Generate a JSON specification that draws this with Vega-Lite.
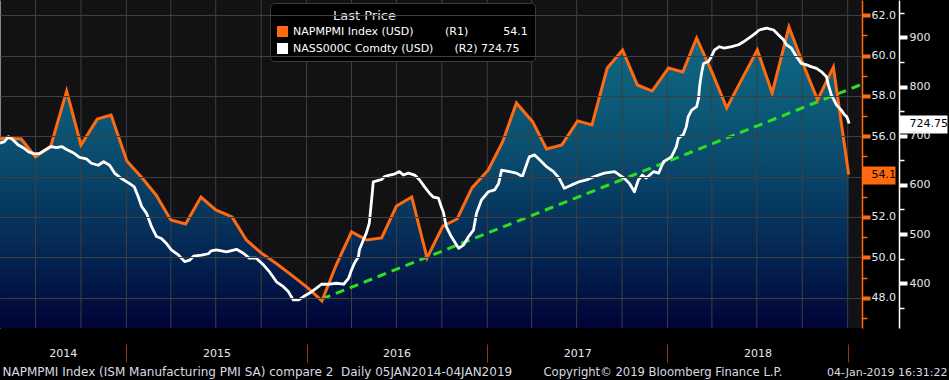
{
  "$schema": "https://vega.github.io/schema/vega-lite/v6.json",
  "width": 862,
  "height": 328,
  "autosize": {"type": "none"},
  "padding": {"left": 0, "top": 0, "right": 87, "bottom": 52},
  "background": "#000000",
  "datasets": {
    "quarters": [
      {"date": "2014-07-01"}, {"date": "2014-10-01"},
      {"date": "2015-01-01"}, {"date": "2015-04-01"}, {"date": "2015-07-01"}, {"date": "2015-10-01"},
      {"date": "2016-01-01"}, {"date": "2016-04-01"}, {"date": "2016-07-01"}, {"date": "2016-10-01"},
      {"date": "2017-01-01"}, {"date": "2017-04-01"}, {"date": "2017-07-01"}, {"date": "2017-10-01"},
      {"date": "2018-01-01"}, {"date": "2018-04-01"}, {"date": "2018-07-01"}, {"date": "2018-10-01"},
      {"date": "2019-01-01"}
    ],
    "pmi": [
      {"date": "2014-04-01", "pmi": 55.8},
      {"date": "2014-05-01", "pmi": 55.91},
      {"date": "2014-06-02", "pmi": 55.86},
      {"date": "2014-07-01", "pmi": 54.97},
      {"date": "2014-08-01", "pmi": 55.52},
      {"date": "2014-09-02", "pmi": 58.24},
      {"date": "2014-10-01", "pmi": 55.57},
      {"date": "2014-11-03", "pmi": 56.85},
      {"date": "2014-12-01", "pmi": 57.05},
      {"date": "2015-01-02", "pmi": 54.77},
      {"date": "2015-02-02", "pmi": 53.93},
      {"date": "2015-03-02", "pmi": 53.09},
      {"date": "2015-04-01", "pmi": 51.85},
      {"date": "2015-05-01", "pmi": 51.65},
      {"date": "2015-06-01", "pmi": 52.99},
      {"date": "2015-07-01", "pmi": 52.35},
      {"date": "2015-08-03", "pmi": 52.0},
      {"date": "2015-09-01", "pmi": 50.86},
      {"date": "2015-10-01", "pmi": 50.22},
      {"date": "2015-11-02", "pmi": 49.67},
      {"date": "2015-12-01", "pmi": 49.13},
      {"date": "2016-01-04", "pmi": 48.48},
      {"date": "2016-02-01", "pmi": 47.84},
      {"date": "2016-03-01", "pmi": 49.62},
      {"date": "2016-04-01", "pmi": 51.26},
      {"date": "2016-05-02", "pmi": 50.86},
      {"date": "2016-06-01", "pmi": 50.96},
      {"date": "2016-07-01", "pmi": 52.54},
      {"date": "2016-08-01", "pmi": 52.99},
      {"date": "2016-09-01", "pmi": 49.97},
      {"date": "2016-10-03", "pmi": 51.55},
      {"date": "2016-11-01", "pmi": 51.9},
      {"date": "2016-12-01", "pmi": 53.44},
      {"date": "2017-01-03", "pmi": 54.33},
      {"date": "2017-02-01", "pmi": 55.72},
      {"date": "2017-03-01", "pmi": 57.65},
      {"date": "2017-04-03", "pmi": 56.71},
      {"date": "2017-05-01", "pmi": 55.37},
      {"date": "2017-06-01", "pmi": 55.57},
      {"date": "2017-07-03", "pmi": 56.76},
      {"date": "2017-08-01", "pmi": 56.56},
      {"date": "2017-09-01", "pmi": 59.38},
      {"date": "2017-10-02", "pmi": 60.27},
      {"date": "2017-11-01", "pmi": 58.54},
      {"date": "2017-12-01", "pmi": 58.24},
      {"date": "2018-01-03", "pmi": 59.38},
      {"date": "2018-02-01", "pmi": 59.18},
      {"date": "2018-03-01", "pmi": 60.87},
      {"date": "2018-04-02", "pmi": 59.13},
      {"date": "2018-05-01", "pmi": 57.4},
      {"date": "2018-06-01", "pmi": 58.84},
      {"date": "2018-07-02", "pmi": 60.27},
      {"date": "2018-08-01", "pmi": 58.14},
      {"date": "2018-09-04", "pmi": 61.41},
      {"date": "2018-10-01", "pmi": 59.68},
      {"date": "2018-11-01", "pmi": 57.8},
      {"date": "2018-12-03", "pmi": 59.43},
      {"date": "2019-01-03", "pmi": 54.1}
    ],
    "trend": [
      {"date": "2016-02-01", "pmi": 47.94},
      {"date": "2019-01-30", "pmi": 58.58}
    ],
    "nass": [
      {"date": "2014-04-20", "price": 685},
      {"date": "2014-04-29", "price": 688},
      {"date": "2014-05-07", "price": 698},
      {"date": "2014-05-17", "price": 691},
      {"date": "2014-05-27", "price": 681},
      {"date": "2014-06-07", "price": 675},
      {"date": "2014-06-17", "price": 667},
      {"date": "2014-06-29", "price": 663},
      {"date": "2014-07-09", "price": 664},
      {"date": "2014-07-19", "price": 670},
      {"date": "2014-08-02", "price": 678},
      {"date": "2014-08-12", "price": 676},
      {"date": "2014-08-23", "price": 678},
      {"date": "2014-09-02", "price": 672},
      {"date": "2014-09-16", "price": 665},
      {"date": "2014-09-28", "price": 656},
      {"date": "2014-10-12", "price": 653},
      {"date": "2014-10-22", "price": 644},
      {"date": "2014-11-05", "price": 640},
      {"date": "2014-11-16", "price": 647},
      {"date": "2014-11-28", "price": 640},
      {"date": "2014-12-08", "price": 624},
      {"date": "2014-12-22", "price": 613},
      {"date": "2015-01-07", "price": 603},
      {"date": "2015-01-17", "price": 596},
      {"date": "2015-01-25", "price": 576},
      {"date": "2015-02-01", "price": 556},
      {"date": "2015-02-11", "price": 542},
      {"date": "2015-02-21", "price": 515},
      {"date": "2015-03-03", "price": 495},
      {"date": "2015-03-13", "price": 491},
      {"date": "2015-03-23", "price": 481},
      {"date": "2015-04-02", "price": 468},
      {"date": "2015-04-17", "price": 457},
      {"date": "2015-04-29", "price": 444},
      {"date": "2015-05-09", "price": 447},
      {"date": "2015-05-17", "price": 455},
      {"date": "2015-06-02", "price": 457},
      {"date": "2015-06-16", "price": 460},
      {"date": "2015-06-22", "price": 466},
      {"date": "2015-07-02", "price": 468},
      {"date": "2015-07-23", "price": 464},
      {"date": "2015-08-12", "price": 469},
      {"date": "2015-08-26", "price": 461},
      {"date": "2015-09-07", "price": 451},
      {"date": "2015-09-21", "price": 451},
      {"date": "2015-10-06", "price": 437},
      {"date": "2015-10-18", "price": 423},
      {"date": "2015-11-01", "price": 403},
      {"date": "2015-11-15", "price": 393},
      {"date": "2015-11-25", "price": 383},
      {"date": "2015-12-05", "price": 366},
      {"date": "2015-12-16", "price": 366},
      {"date": "2015-12-26", "price": 373},
      {"date": "2016-01-07", "price": 380},
      {"date": "2016-01-21", "price": 390},
      {"date": "2016-01-31", "price": 398},
      {"date": "2016-02-16", "price": 398},
      {"date": "2016-03-02", "price": 400},
      {"date": "2016-03-16", "price": 398},
      {"date": "2016-03-26", "price": 410},
      {"date": "2016-04-01", "price": 427},
      {"date": "2016-04-07", "price": 441},
      {"date": "2016-04-15", "price": 454},
      {"date": "2016-04-17", "price": 468},
      {"date": "2016-04-25", "price": 488},
      {"date": "2016-05-01", "price": 502},
      {"date": "2016-05-07", "price": 522},
      {"date": "2016-05-09", "price": 542},
      {"date": "2016-05-13", "price": 583},
      {"date": "2016-05-15", "price": 606},
      {"date": "2016-05-22", "price": 608},
      {"date": "2016-06-01", "price": 611},
      {"date": "2016-06-07", "price": 617},
      {"date": "2016-06-17", "price": 620},
      {"date": "2016-06-27", "price": 622},
      {"date": "2016-07-07", "price": 627},
      {"date": "2016-07-15", "price": 620},
      {"date": "2016-07-25", "price": 624},
      {"date": "2016-08-07", "price": 620},
      {"date": "2016-08-17", "price": 610},
      {"date": "2016-08-27", "price": 596},
      {"date": "2016-09-06", "price": 583},
      {"date": "2016-09-14", "price": 575},
      {"date": "2016-09-24", "price": 573},
      {"date": "2016-09-30", "price": 555},
      {"date": "2016-10-04", "price": 545},
      {"date": "2016-10-10", "price": 515},
      {"date": "2016-10-20", "price": 495},
      {"date": "2016-11-04", "price": 471},
      {"date": "2016-11-14", "price": 478},
      {"date": "2016-11-24", "price": 495},
      {"date": "2016-12-04", "price": 508},
      {"date": "2016-12-10", "price": 542},
      {"date": "2016-12-20", "price": 569},
      {"date": "2017-01-03", "price": 586},
      {"date": "2017-01-16", "price": 590},
      {"date": "2017-01-24", "price": 603},
      {"date": "2017-01-30", "price": 630},
      {"date": "2017-02-15", "price": 627},
      {"date": "2017-03-01", "price": 624},
      {"date": "2017-03-13", "price": 617},
      {"date": "2017-03-21", "price": 640},
      {"date": "2017-03-27", "price": 657},
      {"date": "2017-04-07", "price": 661},
      {"date": "2017-04-17", "price": 651},
      {"date": "2017-05-01", "price": 637},
      {"date": "2017-05-15", "price": 627},
      {"date": "2017-05-27", "price": 613},
      {"date": "2017-06-06", "price": 593},
      {"date": "2017-06-21", "price": 600},
      {"date": "2017-07-05", "price": 606},
      {"date": "2017-07-21", "price": 610},
      {"date": "2017-08-06", "price": 617},
      {"date": "2017-08-26", "price": 624},
      {"date": "2017-09-16", "price": 627},
      {"date": "2017-09-26", "price": 620},
      {"date": "2017-10-06", "price": 613},
      {"date": "2017-10-16", "price": 603},
      {"date": "2017-10-26", "price": 586},
      {"date": "2017-11-03", "price": 610},
      {"date": "2017-11-11", "price": 620},
      {"date": "2017-11-19", "price": 614},
      {"date": "2017-12-04", "price": 627},
      {"date": "2017-12-14", "price": 624},
      {"date": "2017-12-24", "price": 647},
      {"date": "2018-01-09", "price": 657},
      {"date": "2018-01-19", "price": 678},
      {"date": "2018-01-23", "price": 695},
      {"date": "2018-02-02", "price": 702},
      {"date": "2018-02-08", "price": 718},
      {"date": "2018-02-12", "price": 739},
      {"date": "2018-02-19", "price": 752},
      {"date": "2018-03-01", "price": 759},
      {"date": "2018-03-05", "price": 776},
      {"date": "2018-03-07", "price": 800},
      {"date": "2018-03-11", "price": 827},
      {"date": "2018-03-15", "price": 847},
      {"date": "2018-03-25", "price": 851},
      {"date": "2018-03-31", "price": 861},
      {"date": "2018-04-06", "price": 874},
      {"date": "2018-04-16", "price": 881},
      {"date": "2018-04-26", "price": 878},
      {"date": "2018-05-11", "price": 881},
      {"date": "2018-05-25", "price": 885},
      {"date": "2018-06-04", "price": 891},
      {"date": "2018-06-14", "price": 898},
      {"date": "2018-06-24", "price": 905},
      {"date": "2018-07-06", "price": 915},
      {"date": "2018-07-21", "price": 919},
      {"date": "2018-08-04", "price": 915},
      {"date": "2018-08-14", "price": 905},
      {"date": "2018-08-24", "price": 895},
      {"date": "2018-08-30", "price": 885},
      {"date": "2018-09-09", "price": 878},
      {"date": "2018-09-19", "price": 861},
      {"date": "2018-09-29", "price": 847},
      {"date": "2018-10-10", "price": 844},
      {"date": "2018-10-20", "price": 840},
      {"date": "2018-10-30", "price": 837},
      {"date": "2018-11-09", "price": 830},
      {"date": "2018-11-19", "price": 820},
      {"date": "2018-11-23", "price": 803},
      {"date": "2018-11-29", "price": 783},
      {"date": "2018-12-09", "price": 763},
      {"date": "2018-12-19", "price": 752},
      {"date": "2018-12-26", "price": 742},
      {"date": "2018-12-30", "price": 739},
      {"date": "2019-01-04", "price": 724.75}
    ]
  },
  "layer": [
    {
      "resolve": {"axis": {"x": "independent", "y": "independent"}},
      "layer": [
        {
          "data": {"name": "pmi"},
          "mark": {
            "type": "area",
            "clip": true,
            "color": {
              "gradient": "linear",
              "x1": 0, "y1": 0, "x2": 0, "y2": 1,
              "stops": [
                {"offset": 0, "color": "#0f6c86"},
                {"offset": 0.4, "color": "#0a4f70"},
                {"offset": 0.72, "color": "#052a56"},
                {"offset": 1, "color": "#000436"}
              ]
            }
          },
          "encoding": {
            "x": {
              "field": "date",
              "type": "temporal",
              "scale": {
                "type": "utc",
                "domain": [
                  {"year": 2014, "month": 4, "date": 20, "utc": true},
                  {"year": 2019, "month": 1, "date": 30, "utc": true}
                ]
              },
              "axis": {
                "orient": "bottom",
                "values": [{"year": 2014, "month": 7, "date": 1, "utc": true}],
                "tickCount": 100,
                "domain": false,
                "grid": false,
                "ticks": false,
                "labels": false,
                "title": "NAPMPMI Index (ISM Manufacturing PMI SA) compare 2\u00a0\u00a0Daily 05JAN2014-04JAN2019",
                "titleFontSize": 12,
                "titleX": 2,
                "titleY": 47,
                "titleAlign": "left",
                "titleBaseline": "alphabetic",
                "zindex": 1
              }
            },
            "y": {
              "field": "pmi",
              "type": "quantitative",
              "scale": {"domain": [46.5, 62.75], "nice": false, "zero": false},
              "axis": {
                "orient": "right",
                "values": [48, 50, 52, 54, 56, 58, 60, 62],
                "tickCount": 100,
                "domain": true,
                "domainColor": "#ff6a10",
                "domainWidth": 1.5,
                "grid": true,
                "gridColor": "#3f3f42",
                "gridWidth": 1,
                "gridOpacity": 1,
                "tickColor": "#ff6a10",
                "tickWidth": 4,
                "tickSize": 8,
                "labelPadding": 1,
                "labelExpr": "datum.value == 54 ? '' : format(datum.value, '.1f')",
                "labelOverlap": false,
                "labelFlush": false,
                "title": "Copyright\u00a9 2019 Bloomberg Finance L.P.",
                "titleFontSize": 11.6,
                "titleAngle": 0,
                "titleX": -319,
                "titleY": 375,
                "titleAlign": "left",
                "titleBaseline": "alphabetic",
                "zindex": 1
              }
            },
            "y2": {"datum": 46.5}
          }
        },
        {
          "data": {"name": "quarters"},
          "mark": {"type": "rule", "color": "#3f3f42", "strokeWidth": 1},
          "encoding": {
            "x": {"field": "date", "type": "temporal", "axis": null},
            "y": {"datum": 46.5, "type": "quantitative"},
            "y2": {"datum": 62.75}
          }
        },
        {
          "data": {"name": "trend"},
          "mark": {"type": "line", "clip": true, "color": "#2de01e", "strokeWidth": 3, "strokeDash": [9, 6]},
          "encoding": {
            "x": {
              "field": "date",
              "type": "temporal",
              "axis": {
                "orient": "bottom",
                "values": [
                  {"year": 2015, "month": 1, "date": 1, "utc": true},
                  {"year": 2016, "month": 1, "date": 1, "utc": true},
                  {"year": 2017, "month": 1, "date": 1, "utc": true},
                  {"year": 2018, "month": 1, "date": 1, "utc": true},
                  {"year": 2019, "month": 1, "date": 1, "utc": true}
                ],
                "tickCount": 100,
                "offset": 16,
                "domain": false,
                "grid": false,
                "ticks": true,
                "tickSize": 18,
                "tickColor": "#8c3a10",
                "tickWidth": 1,
                "labelOffset": 90,
                "labelPadding": -15,
                "labelBaseline": "top",
                "labelExpr": "utcyear(datum.value) == 2019 ? '' : utcFormat(datum.value, '%Y')",
                "labelOverlap": false,
                "labelFlush": false,
                "title": null
              }
            },
            "y": {
              "field": "pmi",
              "type": "quantitative",
              "axis": {
                "orient": "right",
                "values": [47, 49, 51, 53, 55, 57, 59, 61],
                "tickCount": 100,
                "domain": false,
                "grid": false,
                "labels": false,
                "tickColor": "#ff6a10",
                "tickWidth": 1.5,
                "tickSize": 5,
                "title": null,
                "zindex": 1
              }
            }
          }
        },
        {
          "data": {"name": "pmi"},
          "mark": {"type": "line", "clip": true, "strokeWidth": 3},
          "encoding": {
            "x": {
              "field": "date",
              "type": "temporal",
              "axis": {
                "orient": "bottom",
                "values": [{"year": 2014, "month": 8, "date": 25, "utc": true}],
                "tickCount": 100,
                "offset": 16,
                "domain": false,
                "grid": false,
                "ticks": true,
                "tickSize": 18,
                "tickColor": "transparent",
                "labelPadding": -15,
                "labelBaseline": "top",
                "labelExpr": "utcFormat(datum.value, '%Y')",
                "labelFlush": false,
                "title": null
              }
            },
            "y": {
              "field": "pmi",
              "type": "quantitative",
              "axis": {
                "orient": "right",
                "values": [54.1],
                "tickCount": 100,
                "domain": false,
                "grid": false,
                "tickColor": "#ff6a10",
                "tickWidth": 18,
                "tickSize": 33,
                "labelPadding": -24,
                "labelColor": "#000000",
                "format": ".1f",
                "labelFlush": false,
                "title": null,
                "zindex": 1
              }
            },
            "color": {
              "datum": "NAPMPMI Index (USD)\u00a0\u00a0\u00a0\u00a0\u00a0\u00a0\u00a0\u00a0\u00a0(R1)\u00a0\u00a0\u00a0\u00a0\u00a0\u00a0\u00a0\u00a0\u00a0\u00a054.1",
              "scale": {
                "domain": [
                  "NAPMPMI Index (USD)\u00a0\u00a0\u00a0\u00a0\u00a0\u00a0\u00a0\u00a0\u00a0(R1)\u00a0\u00a0\u00a0\u00a0\u00a0\u00a0\u00a0\u00a0\u00a0\u00a054.1",
                  "NASS000C Comdty (USD)\u00a0\u00a0\u00a0\u00a0\u00a0\u00a0(R2)\u00a0724.75"
                ],
                "range": ["#ff6a10", "#ffffff"]
              },
              "legend": {
                "orient": "none",
                "legendX": 270,
                "legendY": 3,
                "title": "Last Price",
                "titleFont": "DejaVu Sans",
                "titleFontSize": 13,
                "titleFontWeight": "normal",
                "titleColor": "#e4e8ee",
                "titleAnchor": "start",
                "titlePadding": 3,
                "labelFont": "DejaVu Sans",
                "labelFontSize": 11,
                "labelColor": "#ffffff",
                "labelLimit": 0,
                "labelOffset": 5,
                "symbolType": "square",
                "symbolSize": 121,
                "rowPadding": 5,
                "padding": 7,
                "fillColor": "#000000",
                "strokeColor": "#3a3a3a",
                "cornerRadius": 4,
                "encode": {
                  "title": {"update": {"dx": {"value": 56}}},
                  "symbols": {
                    "update": {
                      "fill": {"scale": "color", "field": "value"},
                      "strokeWidth": {"value": 0}
                    }
                  }
                }
              }
            }
          }
        }
      ]
    },
    {
      "layer": [
        {
          "data": {"name": "nass"},
          "mark": {"type": "line", "clip": true, "strokeWidth": 2.8, "strokeJoin": "round"},
          "encoding": {
            "x": {"field": "date", "type": "temporal", "axis": null},
            "y": {
              "field": "price",
              "type": "quantitative",
              "scale": {"domain": [309, 976], "nice": false, "zero": false},
              "axis": {
                "orient": "right",
                "offset": 37,
                "values": [350, 400, 450, 500, 550, 600, 650, 700, 750, 800, 850, 900, 950, 724.75],
                "tickCount": 100,
                "domain": true,
                "domainColor": "#ffffff",
                "domainWidth": 1.5,
                "grid": false,
                "tickColor": "#ffffff",
                "tickWidth": {"condition": [{"test": "datum.value == 724.75", "value": 18}, {"test": "datum.value % 100 == 0", "value": 4}], "value": 1.5},
                "tickSize": {"condition": [{"test": "datum.value == 724.75", "value": 48}, {"test": "datum.value % 100 == 0", "value": 8}], "value": 5},
                "labelPadding": {"condition": [{"test": "datum.value == 724.75", "value": -38}, {"test": "datum.value % 100 == 0", "value": 2}], "value": 5},
                "labelColor": {"condition": {"test": "datum.value == 724.75", "value": "#000000"}, "value": "#e4e8ee"},
                "labelExpr": "datum.value == 724.75 ? '724.75' : (datum.value % 100 == 0 ? format(datum.value, 'd') : '')",
                "labelFlush": false,
                "labelOverlap": false,
                "labelBound": false,
                "title": "04-Jan-2019 16:31:22",
                "titleAngle": 0,
                "titleX": 48,
                "titleY": 375,
                "titleAlign": "right",
                "titleBaseline": "alphabetic",
                "zindex": 1
              }
            },
            "color": {"datum": "NASS000C Comdty (USD)\u00a0\u00a0\u00a0\u00a0\u00a0\u00a0(R2)\u00a0724.75"}
          }
        }
      ]
    }
  ],
  "resolve": {"scale": {"y": "independent"}, "axis": {"x": "independent", "y": "independent"}},
  "config": {
    "view": {"fill": "#121214", "stroke": null},
    "font": "DejaVu Sans",
    "axis": {
      "labelFont": "DejaVu Sans",
      "labelFontSize": 11,
      "labelColor": "#e4e8ee",
      "titleFont": "DejaVu Sans",
      "titleFontSize": 11,
      "titleFontWeight": "normal",
      "titleColor": "#d8dce2"
    }
  }
}
